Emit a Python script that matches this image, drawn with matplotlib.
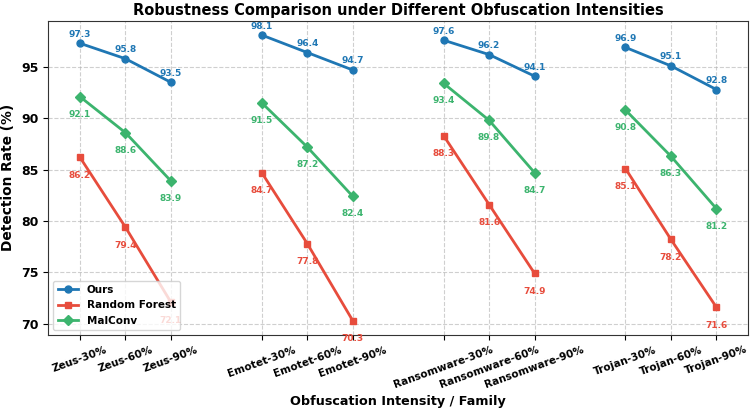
import numpy as np
import matplotlib
matplotlib.use('Agg')
import matplotlib.pyplot as plt

families = ["Zeus", "Emotet", "Ransomware", "Trojan"]
intensities = ["30%", "60%", "90%"]

ours = [[97.3, 95.8, 93.5], [98.1, 96.4, 94.7], [97.6, 96.2, 94.1], [96.9, 95.1, 92.8]]
random_forest = [[86.2, 79.4, 72.1], [84.7, 77.8, 70.3], [88.3, 81.6, 74.9], [85.1, 78.2, 71.6]]
malconv = [[92.1, 88.6, 83.9], [91.5, 87.2, 82.4], [93.4, 89.8, 84.7], [90.8, 86.3, 81.2]]

series = [
    ("Ours", ours, '#1f77b4', 'o', 6.5),
    ("Random Forest", random_forest, '#e74c3c', 's', -13),
    ("MalConv", malconv, '#3cb46e', 'D', -12.5),
]

fig, ax = plt.subplots(figsize=(7.52, 4.16), dpi=100)

tick_pos = []
tick_labels = []
for fi, fam in enumerate(families):
    x = np.arange(3) + fi * 4
    tick_pos.extend(x)
    tick_labels.extend([f"{fam}-{p}" for p in intensities])
    for name, data, color, marker, dy in series:
        ax.plot(x, data[fi], color=color, marker=marker, linewidth=2, markersize=5,
                label=name if fi == 0 else None)
        for xi, yi in zip(x, data[fi]):
            ax.annotate(f"{yi}", (xi, yi), textcoords='offset points', xytext=(0, dy),
                        ha='center', va='center', fontsize=6.5, fontweight='bold', color=color)

ax.set_xticks(tick_pos)
ax.set_xticklabels(tick_labels, rotation=20, fontsize=7.5, fontweight='bold')
ax.set_yticks([70, 75, 80, 85, 90, 95])
for lbl in ax.get_yticklabels():
    lbl.set_fontweight('bold')
    lbl.set_fontsize(9)
ax.set_xlabel("Obfuscation Intensity / Family", fontsize=9.2, fontweight='bold')
ax.set_ylabel("Detection Rate (%)", fontsize=9.9, fontweight='bold')
ax.set_title("Robustness Comparison under Different Obfuscation Intensities",
             fontsize=10.5, fontweight='bold', pad=4)
ax.grid(True, linestyle='--', alpha=0.6)
for s in ax.spines.values():
    s.set_color('#333333')
ax.legend(loc='lower left', prop={'weight': 'bold', 'size': 7.5}, framealpha=0.8)

plt.subplots_adjust(left=0.064, right=0.995, top=0.95, bottom=0.195)
plt.savefig("out.png", dpi=100)
plt.close()
